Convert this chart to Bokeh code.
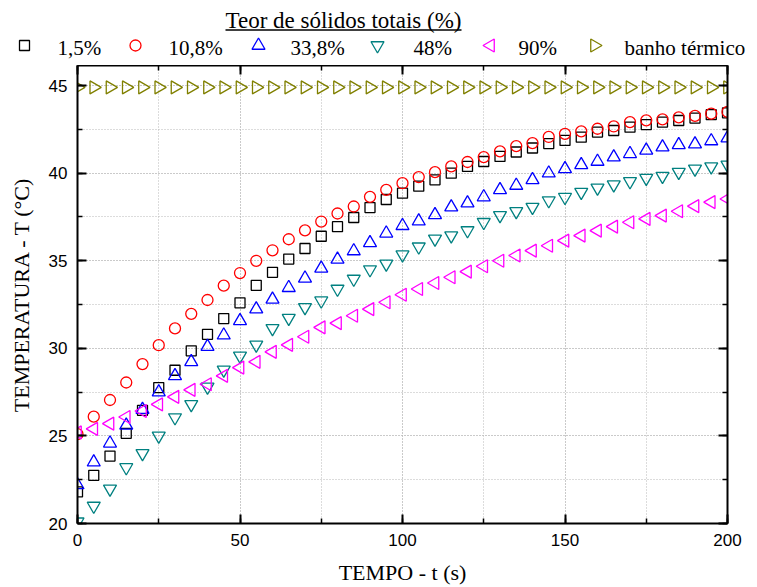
import math
from bokeh.plotting import figure
from bokeh.layouts import column
from bokeh.models import Range1d, LinearAxis, SingleIntervalTicker
from bokeh.core.properties import value
from bokeh.embed import file_html
from bokeh.resources import INLINE

# ---------------- data ----------------
tempo = [0, 5, 10, 15, 20, 25, 30, 35, 40, 45, 50, 55, 60, 65, 70, 75, 80, 85, 90, 95,
         100, 105, 110, 115, 120, 125, 130, 135, 140, 145, 150, 155, 160, 165, 170, 175,
         180, 185, 190, 195, 200]

t_1_5 = [21.8, 22.75, 23.85, 25.15, 26.46, 27.76, 28.75, 29.86, 30.8, 31.7,
         32.6, 33.6, 34.34, 35.1, 35.7, 36.4, 36.95, 37.47, 38.04, 38.5,
         38.86, 39.26, 39.62, 40.0, 40.39, 40.67, 40.96, 41.21, 41.44, 41.69,
         41.87, 42.06, 42.35, 42.44, 42.63, 42.77, 42.92, 43.01, 43.15, 43.34, 43.45]

t_10_8 = [25.1, 26.1, 27.05, 28.05, 29.1, 30.18, 31.14, 31.97, 32.76, 33.58,
          34.3, 35.0, 35.6, 36.23, 36.74, 37.24, 37.7, 38.1, 38.65, 39.05,
          39.43, 39.78, 40.06, 40.39, 40.64, 40.92, 41.25, 41.55, 41.72, 42.07,
          42.25, 42.39, 42.54, 42.67, 42.92, 43.02, 43.07, 43.19, 43.27, 43.4, 43.5]

t_33_8 = [22.2, 23.5, 24.58, 25.6, 26.5, 27.5, 28.43, 29.23, 30.1, 30.75,
          31.57, 32.24, 32.8, 33.46, 34.0, 34.57, 35.08, 35.56, 36.02, 36.57,
          37.0, 37.26, 37.62, 38.06, 38.29, 38.64, 39.05, 39.3, 39.62, 40.0,
          40.25, 40.48, 40.67, 40.92, 41.11, 41.3, 41.49, 41.62, 41.66, 41.84, 42.0]

t_48 = [20.1, 21.0, 21.98, 23.2, 24.0, 25.0, 26.05, 26.8, 27.8, 28.77,
        29.57, 30.2, 31.14, 31.73, 32.34, 32.72, 33.39, 33.96, 34.5, 34.82,
        35.35, 35.8, 36.25, 36.44, 36.73, 37.2, 37.59, 37.82, 38.06, 38.44,
        38.63, 38.92, 39.16, 39.35, 39.53, 39.72, 39.83, 40.06, 40.25, 40.38, 40.48]

t_90 = [25.2, 25.4, 25.7, 26.08, 26.42, 26.8, 27.23, 27.63, 27.95, 28.43,
        28.9, 29.23, 29.8, 30.2, 30.66, 31.2, 31.44, 31.86, 32.24, 32.63,
        33.06, 33.39, 33.73, 34.06, 34.38, 34.69, 35.0, 35.3, 35.58, 35.86,
        36.15, 36.44, 36.72, 36.95, 37.2, 37.39, 37.58, 37.83, 38.12, 38.35, 38.53]

t_banho = [44.9, 44.9, 44.9, 44.9, 44.9, 44.9, 44.9, 44.9, 44.9, 44.9,
           44.9, 44.9, 44.9, 44.9, 44.9, 44.9, 44.9, 44.9, 44.9, 44.9,
           44.9, 44.9, 44.9, 44.9, 44.9, 44.9, 44.9, 44.9, 44.9, 44.9,
           44.9, 44.9, 44.9, 44.9, 44.9, 44.9, 44.9, 44.9, 44.9, 44.9, 44.9]

series = [t_1_5, t_10_8, t_33_8, t_48, t_90, t_banho]
labels = ["1,5%", "10,8%", "33,8%", "48%", "90%", "banho térmico"]
legend_title = "Teor de sólidos totais (%)"
x_title = "TEMPO - t (s)"
y_title = "TEMPERATURA - T (°C)"

# marker styles
styles = [
    dict(marker="square", size=10, angle=0.0, line_color="black"),
    dict(marker="circle", size=11, angle=0.0, line_color="#FF0000"),
    dict(marker="triangle", size=13, angle=0.0, line_color="#0000FF"),
    dict(marker="inverted_triangle", size=13, angle=0.0, line_color="#008080"),
    dict(marker="triangle", size=13, angle=math.pi / 2, line_color="#FF00FF"),
    dict(marker="triangle", size=13, angle=-math.pi / 2, line_color="#808000"),
]
LW = 1.3
HEADER_H = 65

# legend layout (header pixel positions, measured from the top-left)
key_x = [24, 135, 258, 377, 490, 594]
label_x = [57, 168, 290, 413, 518, 624]
KEY_Y = 45
LABEL_BASE = 47
TITLE_X = 343
TITLE_BASE = 20
UNDERLINE_Y = 29.5
UNDERLINE_X0, UNDERLINE_X1 = 225, 461

# ---------------- header (legend) ----------------
h = figure(width=757, height=HEADER_H, output_backend="svg", toolbar_location=None,
           x_range=Range1d(0, 757), y_range=Range1d(HEADER_H, 0),
           x_axis_type=None, y_axis_type=None,
           min_border_left=0, min_border_right=0, min_border_top=0,
           min_border_bottom=0, background_fill_color="white",
           border_fill_color="white")
h.frame_align = False
h.outline_line_color = None
h.xgrid.visible = False
h.ygrid.visible = False

for kx, st in zip(key_x, styles):
    h.scatter([kx], [KEY_Y], marker=st["marker"], size=st["size"], angle=st["angle"],
              fill_color=None, line_color=st["line_color"], line_width=LW)

h.text(x=label_x, y=[LABEL_BASE] * len(labels), text=labels,
       text_font=value("Liberation Serif"), text_font_size=value("21px"),
       text_align="left", text_baseline="alphabetic", text_color="black")

h.text(x=[TITLE_X], y=[TITLE_BASE], text=[legend_title],
       text_font=value("Liberation Serif"), text_font_size=value("23px"),
       text_align="center", text_baseline="alphabetic", text_color="black")
h.segment(x0=[UNDERLINE_X0], y0=[UNDERLINE_Y], x1=[UNDERLINE_X1], y1=[UNDERLINE_Y],
          line_color="black", line_width=1.3)

# ---------------- main plot ----------------
p = figure(width=757, height=587 - HEADER_H, output_backend="svg",
           toolbar_location=None,
           x_range=Range1d(0, 200), y_range=Range1d(20, 46.15),
           min_border_left=77, min_border_right=30, min_border_top=0,
           min_border_bottom=63, background_fill_color="white",
           border_fill_color="white")
p.frame_align = False
p.outline_line_color = None

bottom_axis = p.below[0]
left_axis = p.left[0]

xticker = SingleIntervalTicker(interval=50, num_minor_ticks=2)
yticker = SingleIntervalTicker(interval=5, num_minor_ticks=2)
bottom_axis.ticker = xticker
left_axis.ticker = yticker
p.xgrid.ticker = xticker
p.ygrid.ticker = yticker

top_axis = LinearAxis(ticker=xticker)
right_axis = LinearAxis(ticker=yticker)
p.add_layout(top_axis, "above")
p.add_layout(right_axis, "right")

for ax in [bottom_axis, left_axis, top_axis, right_axis]:
    ax.axis_line_width = 2
    ax.axis_line_color = "black"
    ax.major_tick_line_width = 2
    ax.major_tick_line_color = "black"
    ax.minor_tick_line_width = 1.5
    ax.minor_tick_line_color = "black"
    ax.major_tick_in = 9
    ax.major_tick_out = 0
    ax.minor_tick_in = 5
    ax.minor_tick_out = 0
    ax.major_label_text_font = "Liberation Sans"
    ax.major_label_text_font_size = "17px"
    ax.major_label_text_color = "black"
    ax.major_label_standoff = 10

for ax in [top_axis, right_axis]:
    ax.major_label_text_alpha = 0
    ax.major_label_text_font_size = "1px"
    ax.major_label_standoff = 0

bottom_axis.axis_label = x_title
left_axis.axis_label = y_title
for ax in [bottom_axis, left_axis]:
    ax.axis_label_text_font = "Liberation Serif"
    ax.axis_label_text_font_size = "22px"
    ax.axis_label_text_font_style = "normal"
    ax.axis_label_text_color = "black"
bottom_axis.axis_label_standoff = 11
left_axis.axis_label_standoff = 12

for g in [p.xgrid[0], p.ygrid[0]]:
    g.grid_line_color = "#b8b8b8"
    g.grid_line_dash = "1 2"
    g.grid_line_width = 1
    g.minor_grid_line_color = "#b8b8b8"
    g.minor_grid_line_dash = "1 2"
    g.minor_grid_line_width = 1

for ys, st in zip(series, styles):
    p.scatter(tempo, ys, marker=st["marker"], size=st["size"], angle=st["angle"],
              fill_color=None, line_color=st["line_color"], line_width=LW)

layout = column(h, p, spacing=0)
open("out.html", "w").write(file_html(layout, INLINE))
